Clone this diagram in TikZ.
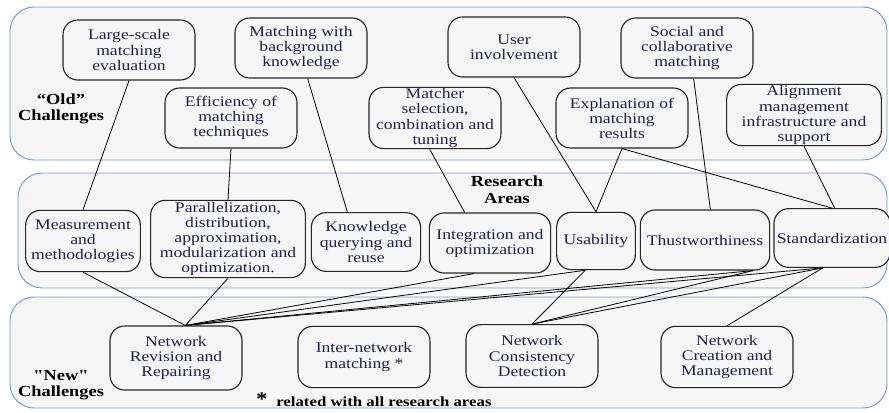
\documentclass[tikz,border=0pt]{standalone}
\usepackage{fontspec}
\setmainfont{Liberation Serif}[FakeStretch=1.2]
\newfontfamily\droit{Liberation Serif}[FakeStretch=1.2]
\usetikzlibrary{positioning}
\definecolor{cadre}{HTML}{6A9BD2}
\definecolor{fond}{HTML}{F6F6F6}
\definecolor{texte}{HTML}{1C2050}

\begin{document}
\begin{tikzpicture}[x=0.75pt,y=-0.75pt,
    zone/.style={draw=cadre,line width=0.7pt,rounded corners=18pt,fill=fond},
    boite/.style={draw=black!85,line width=0.85pt,rounded corners=11pt,fill=fond,
      align=center,text=texte,inner sep=1pt,minimum width=99pt,minimum height=45pt,
      font=\fontsize{11}{11.3}\selectfont},
    titre/.style={align=center,font=\fontsize{11.5}{12.5}\selectfont\bfseries},
    lien/.style={line width=0.6pt}]

  \useasboundingbox (0,0) rectangle (889,412);

  % Zones
  \draw[zone] (10,7) rectangle (887,160);
  \draw[zone] (18,173) rectangle (887,288);
  \draw[zone] (10,297) rectangle (887,408);

  \node[titre] (old) at (61,109) {``Old''\\Challenges};
  \node[titre] (areas) at (507,190) {Research\\Areas};
  \node[titre] (new) at (61,385) {{\droit\bfseries "New"}\\Challenges};

  % Anciens defis
  \node[boite] (large) at (129,50) {Large-scale\\matching\\evaluation};
  \node[boite] (backg) at (301,48) {Matching with\\background\\knowledge};
  \node[boite] (user) at (514,47) {User\\involvement};
  \node[boite] (social) at (687,48) {Social and\\collaborative\\matching};
  \node[boite] (effic) at (231,118) {Efficiency of\\matching\\techniques};
  \node[boite] (matcher) at (435,118) {Matcher\\selection,\\combination and\\tuning};
  \node[boite] (expl) at (622,118) {Explanation of\\matching\\results};
  \node[boite,minimum width=116pt] (align) at (804,115) {Alignment\\management\\infrastructure and\\support};

  % Domaines de recherche
  \node[boite,minimum width=86pt,minimum height=46pt] (measure) at (83,241) {Measurement\\and\\methodologies};
  \node[boite,minimum width=116pt,minimum height=58pt] (parall) at (228,239) {Parallelization,\\distribution,\\approximation,\\modularization and\\optimization.};
  \node[boite,minimum width=82pt,minimum height=44pt] (knowl) at (366,242) {Knowledge\\querying and\\reuse};
  \node[boite,minimum width=91pt] (integ) at (490,243) {Integration and\\optimization};
  \node[boite,minimum width=59pt,minimum height=43pt] (usab) at (596,241) {Usability};
  \node[boite,minimum width=97pt] (thust) at (705,240) {Thustworthiness};
  \node[boite,minimum width=87pt,minimum height=44pt] (stand) at (832,238) {Standardization};

  % Nouveaux defis
  \node[boite,minimum height=48pt] (nrr) at (176,358) {Network\\Revision and\\Repairing};
  \node[boite,minimum height=46pt] (inter) at (364,357) {Inter-network\\matching *};
  \node[boite,minimum height=47pt] (ncd) at (532,356) {Network\\Consistency\\Detection};
  \node[boite,minimum height=46pt] (ncm) at (727,357) {Network\\Creation and\\Management};

  \node[font=\Large\bfseries] (star) at (262,399) {*};
  \node[anchor=west,inner sep=0pt,font=\fontsize{10.5}{12}\selectfont\bfseries] (note) at (276,402) {related with all research areas};

  % Points de contact
  \coordinate (nrrtop) at ([xshift=7pt]nrr.north);
  \coordinate (expbot) at (expl.south);

  % Liens anciens -> domaines
  \foreach \a/\b in {large.south/measure.north,
                     effic.south/parall.north,
                     user.south/usab.north,
                     expbot/usab.north,
                     expbot/stand.north}
    \draw[lien] (\a) -- (\b);
  \draw[lien] ([xshift=5pt]backg.south) -- ([xshift=-14pt]knowl.north);
  \draw[lien] ([xshift=-4pt]matcher.south) -- ([xshift=-19pt]integ.north);
  \draw[lien] ([xshift=5pt]social.south) -- ([xshift=4pt]thust.north);
  \draw[lien] (align.south) -- ([xshift=2pt]stand.north);

  % Liens domaines -> nouveaux
  \draw[lien] (measure.south) -- (nrrtop);
  \draw[lien] (parall.south) -- (nrrtop);
  \draw[lien] ([xshift=-12pt]integ.south) -- (nrrtop);
  \foreach \src/\dx in {usab/-8, thust/36, stand/-7} {
    \draw[lien] ([xshift=\dx pt]\src.south) -- (nrrtop);
    \draw[lien] ([xshift=\dx pt]\src.south) -- (ncd.north);
  }
  \draw[lien] ([xshift=-7pt]stand.south) -- (ncm.north);

\end{tikzpicture}
\end{document}
